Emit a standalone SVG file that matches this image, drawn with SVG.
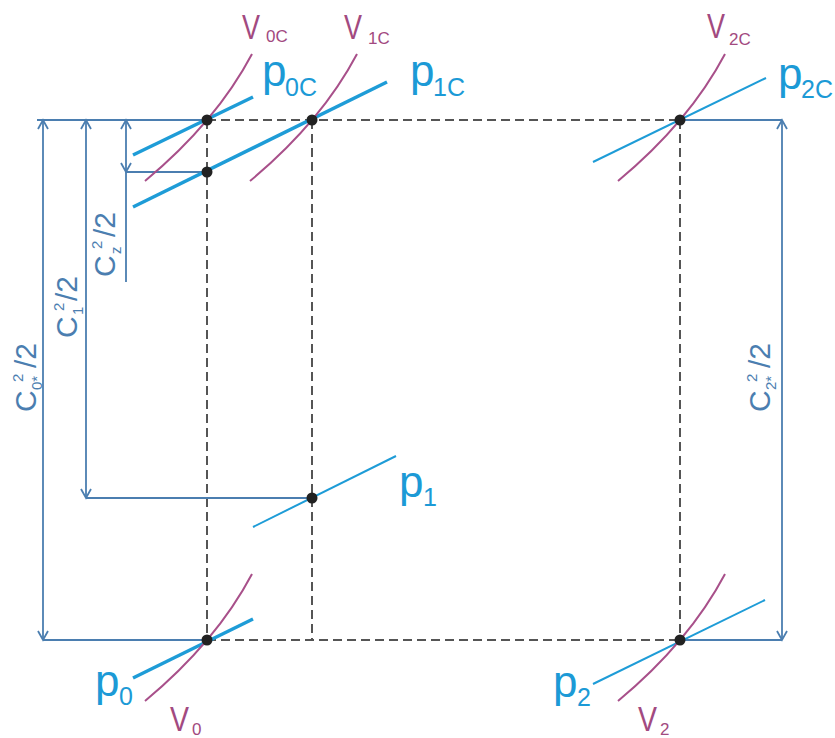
<svg xmlns="http://www.w3.org/2000/svg" width="835" height="738" viewBox="0 0 835 738">
<style>
.dash{stroke:#555;stroke-width:2;stroke-dasharray:9 5;fill:none}
.dim{stroke:#4b7eb0;stroke-width:1.8;fill:none}
.pth{stroke:#1e9cd7;stroke-width:3.5;fill:none;stroke-linecap:butt}
.ptn{stroke:#1e9cd7;stroke-width:2;fill:none}
.vc{stroke:#a8508a;stroke-width:2;fill:none}
.dot{fill:#222}
text{font-family:"Liberation Sans",Arial,sans-serif}
.pl{fill:#1c9ad6;font-size:44px}
.ps{font-size:25px}
.vl{fill:#a24a80;font-size:35px}
.vs{fill:#a24a80;font-size:17px}
.cl{fill:#4b7eb0;font-size:30px}
.cs{font-size:15px}
</style>
<defs>
<marker id="ar" viewBox="-10 -6 12 12" refX="0" refY="0" markerWidth="12" markerHeight="12" markerUnits="userSpaceOnUse" orient="auto-start-reverse">
<path d="M-9,-5 L0,0 L-9,5" fill="none" stroke="#4b7eb0" stroke-width="1.8"/>
</marker>
<path id="vcurve" class="vc" d="M-62,61 Q9,2 45,-66"/>
</defs>
<g id="connectors">
<path class="dash" d="M207,120 H680 M207,640 H680 M207,120 V640 M312,120 V640 M680,120 V640"/>
<path class="dim" d="M37,120 H207 M43,640 H207 M86,498 H312 M126,172 H207 M680,120 H782 M680,640 H782 M126,172 V282"/>
<line class="dim" x1="43" y1="120" x2="43" y2="640" marker-start="url(#ar)" marker-end="url(#ar)"/>
<line class="dim" x1="86" y1="120" x2="86" y2="498" marker-start="url(#ar)" marker-end="url(#ar)"/>
<line class="dim" x1="126" y1="120" x2="126" y2="172" marker-start="url(#ar)" marker-end="url(#ar)"/>
<line class="dim" x1="782" y1="120" x2="782" y2="640" marker-start="url(#ar)" marker-end="url(#ar)"/>
</g>
<g id="lbl-c0" transform="translate(36,412) rotate(-90)"><text class="cl"><tspan x="0" y="0">C</tspan><tspan x="22" y="6" class="cs">0*</tspan><tspan x="30" y="-13" class="cs">2</tspan><tspan x="44" y="0">/2</tspan></text></g>
<g id="lbl-c1" transform="translate(77,338) rotate(-90)"><text class="cl"><tspan x="0" y="0">C</tspan><tspan x="23" y="6" class="cs">1</tspan><tspan x="27" y="-13" class="cs">2</tspan><tspan x="37" y="0">/2</tspan></text></g>
<g id="lbl-cz" transform="translate(115,277) rotate(-90)"><text class="cl"><tspan x="0" y="0">C</tspan><tspan x="23" y="6" class="cs">z</tspan><tspan x="28" y="-13" class="cs">2</tspan><tspan x="40" y="0">/2</tspan></text></g>
<g id="lbl-c2" transform="translate(770,412) rotate(-90)"><text class="cl"><tspan x="0" y="0">C</tspan><tspan x="22" y="6" class="cs">2*</tspan><tspan x="30" y="-13" class="cs">2</tspan><tspan x="44" y="0">/2</tspan></text></g>
<g id="node-0C">
<line class="pth" x1="133" y1="155" x2="253" y2="97"/>
<use href="#vcurve" x="207" y="120"/>
<circle class="dot" cx="207" cy="120" r="5.5"/>
<text class="vl" x="242" y="39" textLength="18" lengthAdjust="spacingAndGlyphs">V</text>
<text class="vs" x="266" y="42">0C</text>
<text class="pl" x="262" y="86">p<tspan class="ps" x="285" y="96">0C</tspan></text>
</g>
<g id="node-1C">
<line class="pth" x1="133" y1="207" x2="387" y2="82"/>
<use href="#vcurve" x="312" y="120"/>
<circle class="dot" cx="312" cy="120" r="5.5"/>
<circle class="dot" cx="207" cy="172" r="5.5"/>
<text class="vl" x="344" y="39" textLength="18" lengthAdjust="spacingAndGlyphs">V</text>
<text class="vs" x="368" y="44">1C</text>
<text class="pl" x="410" y="86">p<tspan class="ps" x="433" y="96">1C</tspan></text>
</g>
<g id="node-2C">
<line class="ptn" x1="593" y1="162" x2="766" y2="78"/>
<use href="#vcurve" x="680" y="120"/>
<circle class="dot" cx="680" cy="120" r="5.5"/>
<text class="vl" x="707" y="38" textLength="18" lengthAdjust="spacingAndGlyphs">V</text>
<text class="vs" x="729" y="45">2C</text>
<text class="pl" x="778" y="89">p<tspan class="ps" x="801" y="98">2C</tspan></text>
</g>
<g id="node-1">
<line class="ptn" x1="253" y1="527" x2="396" y2="456"/>
<circle class="dot" cx="312" cy="498" r="5.5"/>
<text class="pl" x="399" y="497">p<tspan class="ps" x="423" y="506">1</tspan></text>
</g>
<g id="node-0">
<line class="pth" x1="133" y1="678" x2="253" y2="619"/>
<use href="#vcurve" x="207" y="640"/>
<circle class="dot" cx="207" cy="640" r="5.5"/>
<text class="pl" x="95" y="696">p<tspan class="ps" x="119" y="705">0</tspan></text>
<text class="vl" x="170" y="731" textLength="19" lengthAdjust="spacingAndGlyphs">V</text>
<text class="vs" x="192" y="735" font-size="16">0</text>
</g>
<g id="node-2">
<line class="ptn" x1="593" y1="684" x2="765" y2="600"/>
<use href="#vcurve" x="680" y="640"/>
<circle class="dot" cx="680" cy="640" r="5.5"/>
<text class="pl" x="553" y="697">p<tspan class="ps" x="577" y="706">2</tspan></text>
<text class="vl" x="638" y="731" textLength="19" lengthAdjust="spacingAndGlyphs">V</text>
<text class="vs" x="660" y="735" font-size="16">2</text>
</g>
</svg>
